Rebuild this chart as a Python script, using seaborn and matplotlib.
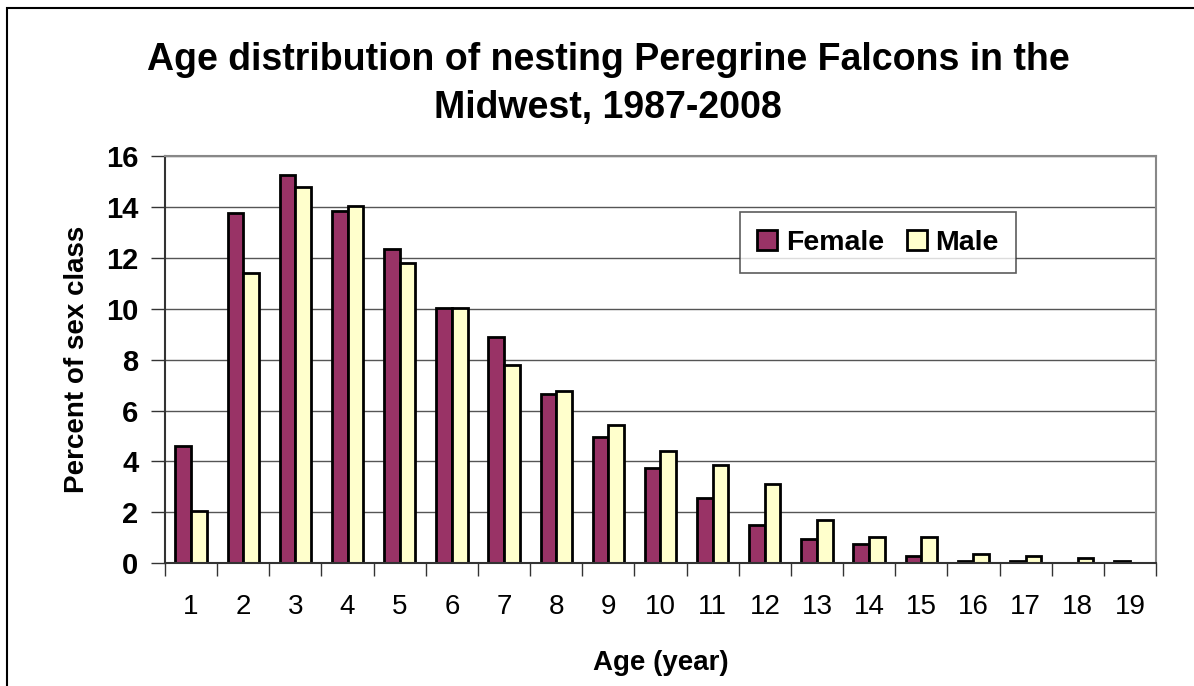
import numpy as np
import pandas as pd
import matplotlib.pyplot as plt
import matplotlib.patches as mpatches
import seaborn as sns

# Percent of each sex class by age
ages = [str(a) for a in range(1, 20)]
female = [4.6, 13.78, 15.25, 13.85, 12.36, 10.02, 8.9, 6.65, 4.98, 3.75,
          2.55, 1.5, 0.94, 0.75, 0.27, 0.1, 0.1, 0.0, 0.1]
male = [2.07, 11.42, 14.8, 14.05, 11.79, 10.02, 7.78, 6.77, 5.44, 4.41,
        3.86, 3.1, 1.69, 1.03, 1.03, 0.38, 0.29, 0.2, 0.0]

df = pd.DataFrame({
    "Age": ages * 2,
    "Percent": female + male,
    "Sex": ["Female"] * len(ages) + ["Male"] * len(ages),
})

sns.set_style("white")
plt.rcParams["font.family"] = ["Liberation Sans", "DejaVu Sans"]
plt.rcParams.update({"text.color": "black", "axes.labelcolor": "black",
                     "xtick.color": "black", "ytick.color": "black"})

fig = plt.figure(figsize=(11.94, 6.86), dpi=100)
ax = fig.add_axes([165 / 1194, 1 - 563.3 / 686, (1156 - 165) / 1194, (563.3 - 156) / 686])

sns.barplot(data=df, x="Age", y="Percent", hue="Sex", order=ages,
            palette={"Female": "#993366", "Male": "#FFFFCC"},
            width=0.6, edgecolor="black", linewidth=2, saturation=1, ax=ax)

ax.set_ylim(0, 16)
ax.set_xlim(-0.5, len(ages) - 0.5)
ax.set_yticks(np.arange(0, 17, 2))
ax.yaxis.grid(True, color="#555555", linewidth=1)
ax.set_axisbelow(True)

# ticks: y marks outward, x marks at category boundaries
ax.tick_params(axis="y", direction="out", length=10, width=1, color="#333333",
               labelcolor="black", left=True, labelsize=21, pad=9)
for lab in ax.get_yticklabels():
    lab.set_fontweight("bold")
ax.tick_params(axis="x", which="major", length=0, labelsize=20, pad=22,
               labelcolor="black")
ax.set_xticks(np.arange(-0.5, len(ages), 1), minor=True)
ax.tick_params(axis="x", which="minor", direction="out", length=9, width=1,
               color="#333333", bottom=True)

for side in ["top", "right"]:
    ax.spines[side].set_color("#888888")
    ax.spines[side].set_linewidth(1.5)
for side in ["left", "bottom"]:
    ax.spines[side].set_color("#333333")
    ax.spines[side].set_linewidth(1.5)

ax.set_xlabel("Age (year)", fontsize=20, fontweight="bold", labelpad=22)
ax.set_ylabel("Percent of sex class", fontsize=20, fontweight="bold", labelpad=12)

handles = [mpatches.Patch(facecolor="#993366", edgecolor="black", linewidth=2),
           mpatches.Patch(facecolor="#FFFFCC", edgecolor="black", linewidth=2)]
leg = ax.legend(handles, ["Female", "Male"], ncol=2, loc="center",
                bbox_to_anchor=((878 - 165) / 991, (563.3 - 242.5) / 407.3),
                prop={"size": 20.5, "weight": "bold"}, frameon=True, fancybox=False,
                handlelength=0.7, handleheight=0.7, handletextpad=0.3,
                columnspacing=0.8, borderpad=0.6)
leg.get_frame().set_edgecolor("#333333")
leg.get_frame().set_linewidth(1.2)

fig.text(608 / 1194, 1 - 84 / 686,
         "Age distribution of nesting Peregrine Falcons in the\nMidwest, 1987-2008",
         ha="center", va="center", fontsize=27, fontweight="bold", linespacing=1.45)

# outer chart frame
fig.patches.append(mpatches.Rectangle((7 / 1194, -0.1), 1.2, 1 - 8 / 686 + 0.1,
                                      transform=fig.transFigure, fill=False,
                                      edgecolor="black", linewidth=1.5))

fig.savefig("out.png", dpi=100)
